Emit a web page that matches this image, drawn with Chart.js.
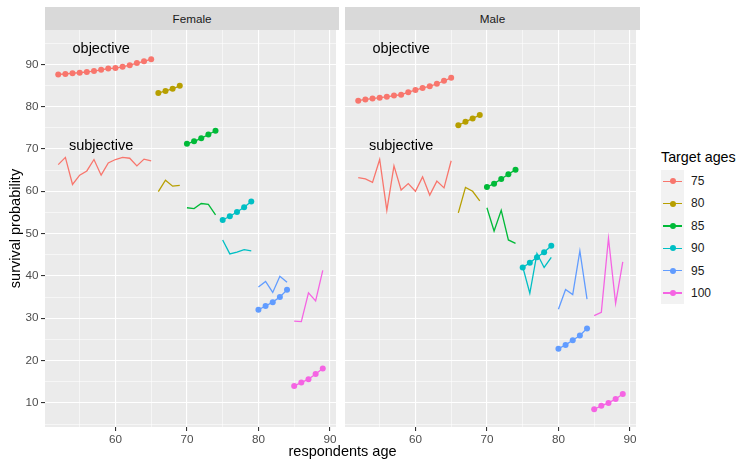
<!DOCTYPE html>
<html>
<head>
<meta charset="utf-8">
<script src="https://cdn.jsdelivr.net/npm/chart.js@4.4.1/dist/chart.umd.min.js"></script>
<style>
  body { margin: 0; background: #fff; font-family: "Liberation Sans", Arial, sans-serif; }
  #wrap { position: relative; width: 740px; height: 461px; overflow: hidden; }
  canvas { position: absolute; top: 0; }
  .strip { position: absolute; top: 7px; height: 23px; line-height: 23px; background: #D9D9D9;
           color: #1A1A1A; font-size: 11.7px; text-align: center; }
  #xTitle { position: absolute; left: 45px; width: 595px; top: 443px; text-align: center;
            font-size: 14.5px; color: #000; }
  #legend { position: absolute; left: 661px; top: 149px; }
  #legend .title { font-size: 14.3px; color: #000; margin-bottom: 5px; white-space: nowrap; }
  #legend .row { position: relative; height: 22.4px; }
  #legend .key { position: absolute; left: 0; top: 0; width: 23px; height: 22.4px; background: #F2F2F2; }
  #legend .line { position: absolute; left: 2px; width: 19px; top: 10.5px; height: 1.4px; }
  #legend .dot { position: absolute; left: 8.5px; top: 8.2px; width: 6px; height: 6px; border-radius: 50%; }
  #legend .lab { position: absolute; left: 30px; top: 4px; font-size: 12px; color: #1A1A1A; }
</style>
</head>
<body>
<div id="wrap">
  <canvas id="female" width="340" height="461" style="left:0px"></canvas>
  <canvas id="male" width="300" height="461" style="left:340px"></canvas>
  <div class="strip" style="left:45px;width:294px">Female</div>
  <div class="strip" style="left:345px;width:295px">Male</div>
  <div id="xTitle">respondents age</div>
  <div id="legend"></div>
</div>
<script>
// respondent ages and the target age each one was asked about
const ages = [52, 53, 54, 55, 56, 57, 58, 59, 60, 61, 62, 63, 64, 65,
  66, 67, 68, 69, 70, 71, 72, 73, 74, 75, 76, 77, 78, 79,
  80, 81, 82, 83, 84, 85, 86, 87, 88, 89];
const targetOfAge = [75, 75, 75, 75, 75, 75, 75, 75, 75, 75, 75, 75, 75, 75,
  80, 80, 80, 80, 85, 85, 85, 85, 85, 90, 90, 90, 90, 90,
  95, 95, 95, 95, 95, 100, 100, 100, 100, 100];
const targetAges = [75, 80, 85, 90, 95, 100];
const targetColors = ["#F8766D", "#B79F00", "#00BA38", "#00BFC4", "#619CFF", "#F564E3"];
const xTicks = [55, 60, 65, 70, 75, 80, 85, 90];
const yTicks = [5, 10, 15, 20, 25, 30, 35, 40, 45, 50, 55, 60, 65, 70, 75, 80, 85, 90, 95];

const femaleObjective = [87.6, 87.7, 87.9, 88.0, 88.2, 88.4, 88.7, 89.0, 89.1, 89.4, 89.8, 90.3, 90.7, 91.2,
  83.2, 83.7, 84.2, 84.9, 71.2, 71.8, 72.5, 73.4, 74.3, 53.2, 54.1, 55.1, 56.2, 57.6,
  32.0, 32.9, 33.8, 35.0, 36.7, 14.0, 14.8, 15.6, 16.8, 18.1];
const femaleSubjective = [66.3, 68.0, 61.6, 63.8, 64.8, 67.5, 63.8, 66.7, 67.5, 68.0, 67.8, 66.0, 67.6, 67.2,
  59.9, 62.6, 61.2, 61.4, 56.1, 55.9, 57.1, 56.9, 54.4, 48.5, 45.2, 45.6, 46.2, 45.9,
  37.4, 38.7, 36.1, 39.9, 38.5, 29.3, 29.2, 36.0, 34.1, 41.3];
const maleObjective = [81.4, 81.7, 81.9, 82.1, 82.3, 82.6, 82.8, 83.4, 83.9, 84.4, 84.8, 85.4, 86.1, 86.8,
  75.6, 76.4, 77.2, 78.0, 61.0, 61.8, 62.9, 64.0, 65.1, 42.0, 43.1, 44.4, 45.6, 47.1,
  22.8, 23.7, 24.8, 25.9, 27.6, 8.5, 9.3, 10.0, 10.9, 12.1];
const maleSubjective = [63.2, 62.9, 62.1, 67.5, 55.5, 66.0, 60.3, 61.8, 60.0, 63.4, 59.1, 62.4, 60.8, 67.2,
  54.9, 60.9, 60.0, 57.7, 56.1, 50.6, 55.5, 48.5, 47.7, 42.2, 35.9, 45.3, 42.0, 44.4,
  32.1, 36.8, 35.6, 45.9, 34.5, 30.6, 31.4, 48.9, 33.5, 43.3];

const tickFont = { family: "'Liberation Sans', Arial, sans-serif", size: 11.7 };
const isMajor = v => Math.abs(v % 10) < 1e-6;

function buildDatasets(objective, subjective) {
  const sets = [];
  targetAges.forEach((t, k) => {
    const idx = ages.map((a, i) => i).filter(i => targetOfAge[i] === t);
    sets.push({
      label: t + " objective",
      data: idx.map(i => ({ x: ages[i], y: objective[i] })),
      borderColor: targetColors[k], backgroundColor: targetColors[k],
      borderWidth: 1.3, pointRadius: 3, pointBorderWidth: 0, pointBackgroundColor: targetColors[k]
    });
  });
  targetAges.forEach((t, k) => {
    const idx = ages.map((a, i) => i).filter(i => targetOfAge[i] === t);
    sets.push({
      label: t + " subjective",
      data: idx.map(i => ({ x: ages[i], y: subjective[i] })),
      borderColor: targetColors[k], backgroundColor: targetColors[k],
      borderWidth: 1.3, pointRadius: 0
    });
  });
  return sets;
}

// grey panel background
const panelBg = {
  id: "panelBg",
  beforeDraw(chart) {
    const { ctx, chartArea: a } = chart;
    ctx.save();
    ctx.fillStyle = "#EBEBEB";
    ctx.fillRect(a.left, a.top, a.right - a.left, a.bottom - a.top);
    ctx.restore();
  }
};

// "objective" / "subjective" text labels
const panelText = {
  id: "panelText",
  afterDatasetsDraw(chart) {
    const { ctx, scales } = chart;
    ctx.save();
    ctx.fillStyle = "#000";
    ctx.font = "14.5px 'Liberation Sans', Arial, sans-serif";
    ctx.textAlign = "center";
    ctx.textBaseline = "middle";
    ctx.fillText("objective", scales.x.getPixelForValue(58), scales.y.getPixelForValue(93.7));
    ctx.fillText("subjective", scales.x.getPixelForValue(58), scales.y.getPixelForValue(70.7));
    ctx.restore();
  }
};

function gridOpts(withTicks) {
  return {
    color: "#FFFFFF",
    lineWidth: c => isMajor(c.tick.value) ? 1.1 : 0.55,
    drawTicks: withTicks,
    tickLength: 4,
    tickWidth: 1.1,
    tickColor: c => isMajor(c.tick.value) ? "#333333" : "rgba(0,0,0,0)"
  };
}

function makePanel(id, objective, subjective, showY) {
  return new Chart(document.getElementById(id), {
    type: "line",
    data: { datasets: buildDatasets(objective, subjective) },
    options: {
      responsive: false,
      animation: false,
      events: [],
      layout: { padding: showY ? { top: 30, right: 1, bottom: 0, left: 0 } : { top: 30, right: 0, bottom: 0, left: 5 } },
      plugins: { legend: { display: false }, tooltip: { enabled: false } },
      scales: {
        x: {
          type: "linear", min: 50.15, max: 90.85,
          afterBuildTicks: s => { s.ticks = xTicks.map(v => ({ value: v })); },
          afterFit: s => { s.height = 34; s.paddingLeft = 0; s.paddingRight = 0; },
          border: { display: false },
          grid: gridOpts(true),
          ticks: {
            autoSkip: false, maxRotation: 0, padding: 2, color: "#4D4D4D", font: tickFont,
            callback: v => isMajor(v) ? String(v) : ""
          }
        },
        y: {
          type: "linear", min: 4.3, max: 98.1,
          afterBuildTicks: s => { s.ticks = yTicks.map(v => ({ value: v })); },
          afterFit: s => { s.width = showY ? 45 : 0; s.paddingTop = 0; s.paddingBottom = 0; },
          border: { display: false },
          grid: gridOpts(showY),
          title: {
            display: showY, text: "survival probability", color: "#000",
            font: { family: "'Liberation Sans', Arial, sans-serif", size: 14.5 },
            padding: { top: 7, bottom: 0 }
          },
          ticks: {
            display: showY, autoSkip: false, padding: 2.5, color: "#4D4D4D", font: tickFont,
            callback: v => isMajor(v) ? String(v) : ""
          }
        }
      }
    },
    plugins: [panelBg, panelText]
  });
}

makePanel("female", femaleObjective, femaleSubjective, true);
makePanel("male", maleObjective, maleSubjective, false);

// legend
const legend = document.getElementById("legend");
let html = '<div class="title">Target ages</div>';
targetAges.forEach((t, k) => {
  html += '<div class="row"><div class="key">' +
    '<div class="line" style="background:' + targetColors[k] + '"></div>' +
    '<div class="dot" style="background:' + targetColors[k] + '"></div></div>' +
    '<div class="lab">' + t + '</div></div>';
});
legend.innerHTML = html;
</script>
</body>
</html>
